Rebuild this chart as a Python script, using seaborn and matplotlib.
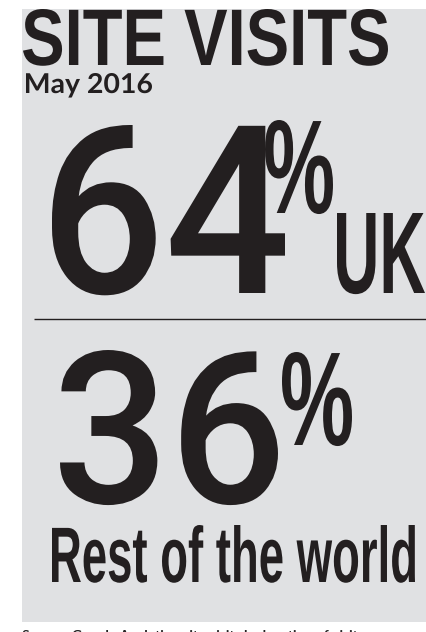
import matplotlib
matplotlib.use("Agg")
import matplotlib.pyplot as plt
import seaborn as sns
from matplotlib import font_manager as fm
from matplotlib.patches import Rectangle
from matplotlib.patheffects import AbstractPathEffect
from matplotlib.textpath import TextPath
from matplotlib.transforms import Affine2D

# ---- data ----
TITLE = "SITE VISITS"
PERIOD = "May 2016"
REGIONS = ["UK", "Rest of the world"]
SHARES = [64, 36]
SOURCE = "Source: Google Analytics, site visits by location of visitor"

# ---- style ----
W, H, DPI = 427, 632, 100
INK = "#231f20"
PANEL = "#e0e1e3"

installed = {f.name for f in fm.fontManager.ttflist}


def pick(*names):
    for n in names:
        if n in installed:
            return n
    return "DejaVu Sans"


F_TITLE = pick("Liberation Sans Narrow", "Liberation Sans", "Roboto")
F_SUB = pick("Lato", "Open Sans", "Noto Sans")
F_NUM = pick("Roboto", "Inter", "Lato")
F_COND = pick("Liberation Sans Narrow", "Liberation Sans", "Roboto")


class Squeeze(AbstractPathEffect):
    """scale glyph outlines horizontally around the text origin"""

    def __init__(self, sx=1.0):
        super().__init__()
        self.sx = sx

    def draw_path(self, renderer, gc, tpath, affine, rgbFace=None):
        renderer.draw_path(gc, tpath, Affine2D().scale(self.sx, 1.0) + affine, rgbFace)


def fit_text(ax, s, box, family, weight="normal"):
    """place s so its ink fills box = (left, right, top, baseline) in pixels"""
    x0, x1, top, base = box
    fp = fm.FontProperties(family=family, weight=weight)
    ext = TextPath((0, 0), s, size=1, prop=fp).get_extents()
    px = (base - top) / ext.y1
    sx = (x1 - x0) / ((ext.x1 - ext.x0) * px)
    fp.set_size(px * 72 / DPI)
    return ax.text(x0 - ext.x0 * px * sx, base, s, fontproperties=fp,
                   ha="left", va="baseline", color=INK,
                   path_effects=[Squeeze(sx)])


sns.set_theme(style="white")
fig = plt.figure(figsize=(W / DPI, H / DPI), dpi=DPI)
fig.patch.set_facecolor("white")
ax = fig.add_axes([0, 0, 1, 1])
ax.set_xlim(0, W)
ax.set_ylim(H, 0)
ax.axis("off")

# grey card
ax.add_patch(Rectangle((22, 9), W - 22, 613, facecolor=PANEL, edgecolor="none", zorder=0))

fit_text(ax, TITLE, (23, 388, 9, 65), F_TITLE, "bold")
fit_text(ax, PERIOD, (26, 152, 73, 93), F_SUB, "bold")

# UK share
fit_text(ax, str(SHARES[0]), (52, 285, 125, 293), F_NUM, "medium")
fit_text(ax, "%", (265, 333, 120, 213), F_COND, "bold")
fit_text(ax, REGIONS[0], (337, 425, 213, 293), F_COND, "bold")

ax.hlines(319, 34, W, color=INK, linewidth=1.0)

# rest of world share
fit_text(ax, str(SHARES[1]), (60, 278, 350, 503), F_NUM, "medium")
fit_text(ax, "%", (282, 352, 352, 445), F_COND, "bold")
fit_text(ax, REGIONS[1], (52, 415, 525, 582), F_COND, "bold")

# source line, cropped at the bottom edge
ax.text(22, 640.5, SOURCE, fontsize=10, family=F_SUB, fontweight="bold",
        color=INK, ha="left", va="baseline")

fig.savefig("out.png", dpi=DPI, facecolor="white")
